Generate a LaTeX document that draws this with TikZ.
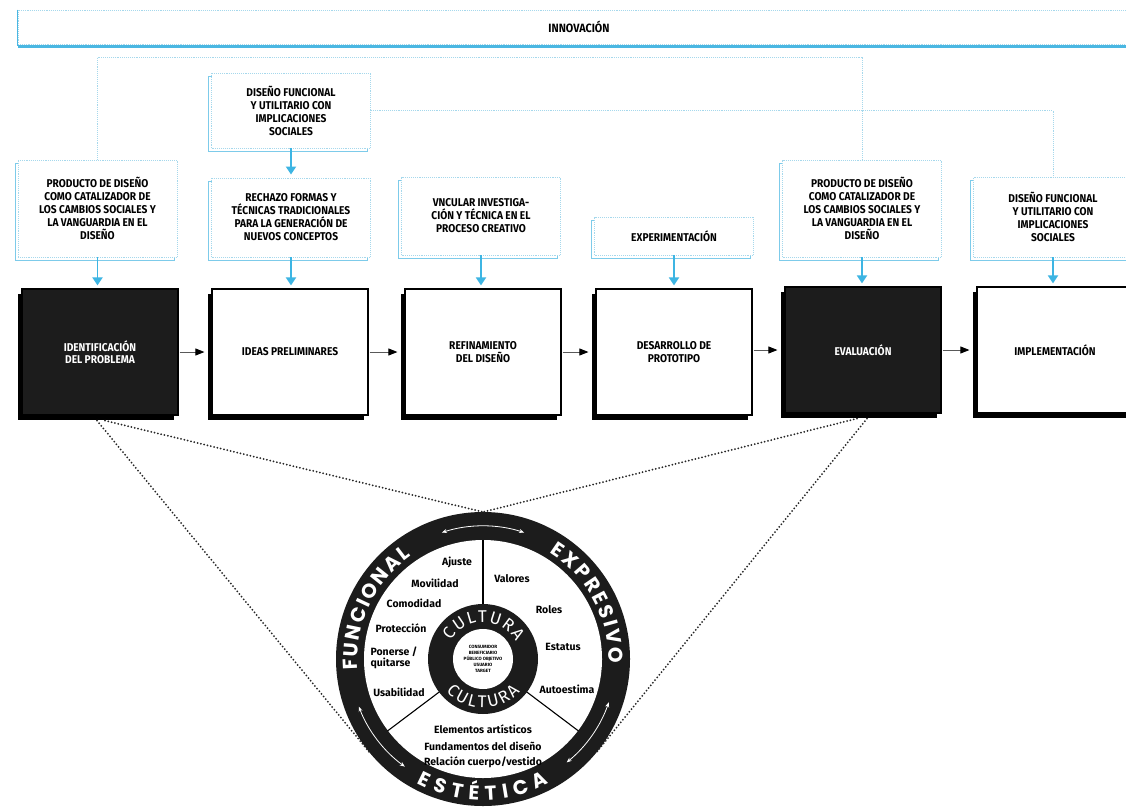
\documentclass[tikz,border=0pt]{standalone}
\usepackage{fontspec}
\setmainfont{Fira Sans}
\newfontfamily\cond[FakeStretch=0.9]{Fira Sans}
\newfontfamily\bandfont{Poppins}
\usetikzlibrary{arrows.meta,shadows,calc,decorations.text}
\definecolor{dotblue}{HTML}{A6D8EC}
\definecolor{shblue}{HTML}{7DCBEA}
\definecolor{arrblue}{HTML}{3DB5E3}
\definecolor{barblue}{HTML}{4AB7E2}
\definecolor{boxblack}{HTML}{1C1C1C}
\tikzset{
  topbox/.style={draw=dotblue, densely dotted, line width=0.9pt, fill=white,
    minimum width=159pt, inner sep=2pt, align=center,
    font=\cond\bfseries\fontsize{11.3}{13}\selectfont,
    general shadow={draw=shblue, solid, line width=1pt, fill=white, shadow xshift=-3pt, shadow yshift=-3pt}},
  procbox/.style={draw=black, line width=1.2pt, fill=white, minimum width=156pt,
    minimum height=126pt, align=center, inner sep=2pt,
    font=\cond\bfseries\fontsize{11.3}{12.5}\selectfont,
    general shadow={fill=black, shadow xshift=-4pt, shadow yshift=-5pt}},
  procdark/.style={procbox, fill=boxblack, text=white},
  bluearr/.style={draw=arrblue, line width=1.8pt, -{Triangle[width=10pt,length=8pt]}, shorten >=3pt},
  blackarr/.style={draw=black!65, line width=0.9pt, -{Triangle[width=7pt,length=9pt,color=black]}, shorten >=7pt, shorten <=1pt},
  conn/.style={draw=dotblue, line width=0.9pt, densely dotted},
  blkdot/.style={draw=black!85, line width=2pt, line cap=round, dash pattern=on 0pt off 3.4pt},
  sector/.style={font=\bfseries\fontsize{10.5}{11.5}\selectfont, inner sep=0pt},
  bandarrow/.style={white, line width=0.8pt, {Stealth[length=5pt,width=4pt]}-{Stealth[length=5pt,width=4pt]}}
}
\begin{document}
\begin{tikzpicture}[x=1pt,y=1pt]
\useasboundingbox (0,0) rectangle (1126,-808);
\fill[white] (0,0) rectangle (1126,-808);

% innovation bar
\node[draw=dotblue, densely dotted, line width=0.9pt, minimum width=1122pt, minimum height=34pt,
  inner sep=0pt, font=\cond\bfseries\fontsize{12}{13}\selectfont] (innov) at (579,-27) {INNOVACIÓN};
\draw[barblue, line width=2.4pt] ([yshift=-2pt]innov.south west) -- ([yshift=-2pt]innov.south east);
\draw[barblue, line width=1.6pt] (innov.north west) -- ([yshift=-2pt]innov.south west);

% top boxes
\node[topbox, minimum height=75pt] (T0) at (291,-110.5) {DISEÑO FUNCIONAL\\Y UTILITARIO CON\\IMPLICACIONES\\SOCIALES};
\node[topbox, minimum height=97pt] (T1) at (97.5,-208.5) {PRODUCTO DE DISEÑO\\COMO CATALIZADOR DE\\LOS CAMBIOS SOCIALES Y\\LA VANGUARDIA EN EL\\DISEÑO};
\node[topbox, minimum height=79pt] (T2) at (291,-217.5) {RECHAZO FORMAS Y\\TÉCNICAS TRADICIONALES\\PARA LA GENERACIÓN DE\\NUEVOS CONCEPTOS};
\node[topbox, minimum height=78pt] (T3) at (481,-216) {VNCULAR INVESTIGA-\\CIÓN Y TÉCNICA EN EL\\PROCESO CREATIVO};
\node[topbox, minimum height=38pt] (T4) at (674,-236) {EXPERIMENTACIÓN};
\node[topbox, minimum height=97pt] (T5) at (862,-208.5) {PRODUCTO DE DISEÑO\\COMO CATALIZADOR DE\\LOS CAMBIOS SOCIALES Y\\LA VANGUARDIA EN EL\\DISEÑO};
\node[topbox, minimum height=80pt] (T6) at (1053,-217) {DISEÑO FUNCIONAL\\Y UTILITARIO CON\\IMPLICACIONES\\SOCIALES};

% dotted connectors
\coordinate (h1) at (0,-57);
\draw[conn] (T1.north) -- (T1.north |- h1) -- (T5.north |- h1) -- (T5.north);
\draw[conn] (T0.east) -| (T6.north);

% process boxes
\node[procdark] (P1) at (100,-352) {IDENTIFICACIÓN\\DEL PROBLEMA};
\node[procbox] (P2) at (290,-352) {IDEAS PRELIMINARES};
\node[procbox] (P3) at (483,-352) {REFINAMIENTO\\DEL DISEÑO};
\node[procbox] (P4) at (674,-352) {DESARROLLO DE\\PROTOTIPO};
\node[procdark] (P5) at (863,-350) {EVALUACIÓN};
\node[procbox] (P6) at (1055,-350) {IMPLEMENTACIÓN};

% blue arrows
\draw[bluearr] (T0.south) -- (T2.north);
\draw[bluearr] (T1.south) -- (T1.south |- P1.north);
\draw[bluearr] (T2.south) -- (T2.south |- P2.north);
\draw[bluearr] (T3.south) -- (T3.south |- P3.north);
\draw[bluearr] (T4.south) -- (T4.south |- P4.north);
\draw[bluearr] (T5.south) -- (T5.south |- P5.north);
\draw[bluearr] (T6.south) -- (T6.south |- P6.north);

% black arrows
\draw[blackarr] (P1.east) -- (P2.west);
\draw[blackarr] (P2.east) -- (P3.west);
\draw[blackarr] (P3.east) -- (P4.west);
\draw[blackarr] (P4.east |- P5.east) -- (P5.west);
\draw[blackarr] (P5.east) -- (P6.west);

% wheel
\node[circle, minimum size=294pt, inner sep=0pt, outer sep=0pt, fill=boxblack] (wheel) at (483,-659) {};
\fill[white] (wheel.center) circle[radius=119];
\foreach \a in {90,217,323}
  \draw[line width=1.1pt] ($(wheel.center)+(\a:54)$) -- ($(wheel.center)+(\a:119.5)$);
\fill[boxblack] (wheel.center) circle[radius=55];
\fill[white] (wheel.center) circle[radius=30];
\node[font=\bfseries\fontsize{4.6}{6}\selectfont, align=center, inner sep=0pt] (core) at (wheel.center)
  {CONSUMIDOR\\BENEFICIARIO\\PÚBLICO OBJETIVO\\USUARIO\\TARGET};

% band texts
\path[decorate, decoration={text along path, text={|\bandfont\bfseries\fontsize{20}{20}\selectfont|FUNCIONAL}, text align=fit to path, text color=white}]
  ($(wheel.center)+(185:125.5)$) arc[start angle=185, end angle=125, radius=125.5];
\path[decorate, decoration={text along path, text={|\bandfont\bfseries\fontsize{20}{20}\selectfont|EXPRESIVO}, text align=fit to path, text color=white}]
  ($(wheel.center)+(58:125.5)$) arc[start angle=58, end angle=-2, radius=125.5];
\path[decorate, decoration={text along path, text={|\bandfont\bfseries\fontsize{20}{20}\selectfont|ESTÉTICA}, text align=fit to path, text color=white}]
  ($(wheel.center)+(242:141)$) arc[start angle=242, end angle=298, radius=141];
\path[decorate, decoration={text along path, text={|\fontsize{17}{17}\selectfont|CULTURA}, text align=fit to path, text color=white}]
  ($(wheel.center)+(150:37)$) arc[start angle=150, end angle=28, radius=37];
\path[decorate, decoration={text along path, text={|\fontsize{17}{17}\selectfont|CULTURA}, text align=fit to path, text color=white}]
  ($(wheel.center)+(221:49)$) arc[start angle=221, end angle=319, radius=49];

% band arrows
\draw[bandarrow] ($(wheel.center)+(72:133)$) arc[start angle=72, end angle=108, radius=133];
\draw[bandarrow] ($(wheel.center)+(201:133)$) arc[start angle=201, end angle=234, radius=133];
\draw[bandarrow] ($(wheel.center)+(309:133)$) arc[start angle=309, end angle=341, radius=133];

% sector texts
\node[sector] (s1) at (457,-562) {Ajuste};
\node[sector] (s2) at (435,-583) {Movilidad};
\node[sector] (s3) at (414,-603) {Comodidad};
\node[sector] (s4) at (401,-628) {Protección};
\node[sector, align=left] (s5) at (394,-658) {Ponerse /\\quitarse};
\node[sector] (s6) at (399,-692) {Usabilidad};
\node[sector] (s7) at (512,-579) {Valores};
\node[sector] (s8) at (549,-610) {Roles};
\node[sector] (s9) at (563,-647) {Estatus};
\node[sector] (s10) at (567,-689) {Autoestima};
\node[sector] (s11) at (483,-729) {Elementos artísticos};
\node[sector] (s12) at (483,-746) {Fundamentos del diseño};
\node[sector] (s13) at (483,-762) {Relación cuerpo/vestido};

% dotted links to wheel
\coordinate (p1b) at ($(P1.south)+(-3,-5)$);
\coordinate (p5b) at ($(P5.south)+(-1,-5)$);
\draw[blkdot] ([xshift=8pt]p1b) -- (wheel.north);
\draw[blkdot] (p1b) -- (tangent cs:node=wheel,point={(p1b)},solution=1);
\draw[blkdot] ([xshift=-5pt]p5b) -- (wheel.north);
\draw[blkdot] ([xshift=5pt]p5b) -- (tangent cs:node=wheel,point={([xshift=5pt]p5b)},solution=2);
\end{tikzpicture}
\end{document}
